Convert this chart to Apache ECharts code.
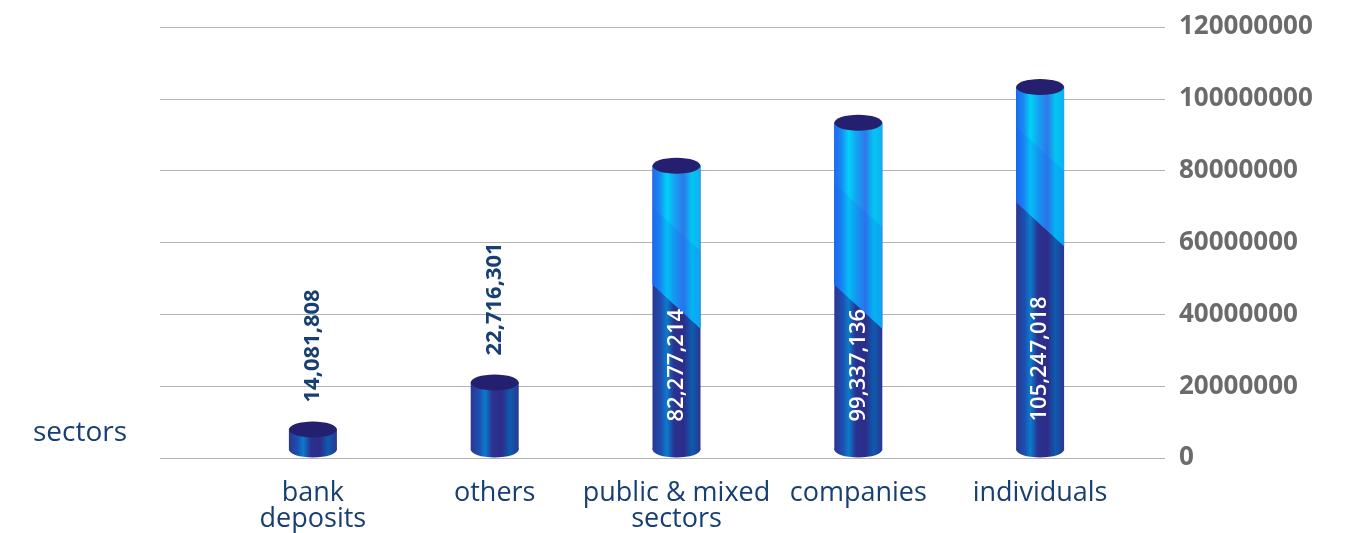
<!DOCTYPE html>
<html>
<head>
<meta charset="utf-8">
<script src="https://cdn.jsdelivr.net/npm/echarts@6/dist/echarts.min.js"></script>
<style>
  html, body { margin: 0; padding: 0; background: #fff; }
  #chart { width: 1363px; height: 533px; }
</style>
</head>
<body>
<div id="chart"></div>
<script>
var categories = ['bank\ndeposits', 'others', 'public & mixed\nsectors', 'companies', 'individuals'];
// bar heights as drawn in the picture
var barValues = [7800000, 20900000, 81300000, 93300000, 103300000];
// the figures written on the bars
var valueLabels = ['14,081,808', '22,716,301', '82,277,214', '99,337,136', '105,247,018'];
var yTicks = [0, 20000000, 40000000, 60000000, 80000000, 100000000, 120000000];

var chart = echarts.init(document.getElementById('chart'));

var NAVY = '#173f72';

// vertical stripes of the cylinder body
function darkFill() {
    return new echarts.graphic.LinearGradient(0, 0, 1, 0, [
        { offset: 0, color: '#2c3592' },
        { offset: 0.18, color: '#1d4fb0' },
        { offset: 0.3, color: '#0a7ccc' },
        { offset: 0.45, color: '#2a3290' },
        { offset: 0.65, color: '#2d2c8a' },
        { offset: 0.82, color: '#0c5cae' },
        { offset: 1, color: '#2c3590' }
    ]);
}
function lightFill() {
    return new echarts.graphic.LinearGradient(0, 0, 1, 0, [
        { offset: 0, color: '#1a6cf0' },
        { offset: 0.15, color: '#1a88f2' },
        { offset: 0.3, color: '#00d2f6' },
        { offset: 0.45, color: '#12a6f2' },
        { offset: 0.65, color: '#2f78ea' },
        { offset: 0.82, color: '#00c6f2' },
        { offset: 1, color: '#12aef0' }
    ]);
}

function renderCylinder(params, api) {
    var idx = params.dataIndex;
    var val = api.value(1);
    var topPt = api.coord([api.value(0), val]);
    var basePt = api.coord([api.value(0), 0]);
    var w = 48, ry = 8;
    var cx = topPt[0], top = topPt[1];
    var bottom = basePt[1] - ry;
    var l = cx - w / 2, r = cx + w / 2;
    var children = [];

    // body
    children.push({
        type: 'rect',
        shape: { x: l, y: top, width: w, height: bottom - top },
        style: { fill: darkFill() }
    });
    children.push({
        type: 'ellipse',
        shape: { cx: cx, cy: bottom, rx: w / 2, ry: ry },
        style: { fill: darkFill() }
    });

    // lighter upper part on the tall bars
    if (val > 50000000) {
        var splitY = api.coord([0, val > 100000000 ? 65000000 : 42000000])[1];
        children.push({
            type: 'polygon',
            shape: { points: [[l, top], [r, top], [r, splitY + 22], [l, splitY - 22]] },
            style: { fill: lightFill() }
        });
        // faint diagonal band
        var bandY = top + (splitY - top) * 0.45;
        children.push({
            type: 'polygon',
            shape: { points: [[l, bandY - 22], [r, bandY + 22], [r, splitY + 22], [l, splitY - 22]] },
            style: { fill: 'rgba(20,80,240,0.15)' }
        });
    }

    // top cap
    children.push({
        type: 'ellipse',
        shape: { cx: cx, cy: top, rx: w / 2, ry: ry },
        style: { fill: '#241f6e' }
    });

    // value text, rotated
    var inside = val > 50000000;
    children.push({
        type: 'text',
        x: cx,
        y: inside ? basePt[1] - 36 : top - ry - 19,
        rotation: Math.PI / 2,
        style: {
            text: valueLabels[idx],
            fill: inside ? '#ffffff' : NAVY,
            font: (inside ? '600 ' : 'bold ') + '22px "Open Sans"',
            align: 'left',
            verticalAlign: 'middle'
        }
    });

    return { type: 'group', children: children };
}

var option = {
    animation: false,
    grid: [
        { left: 160, right: 198, top: 27, bottom: 75 },
        { left: 222, right: 232, top: 27, bottom: 75 }
    ],
    xAxis: [
        { type: 'category', gridIndex: 0, data: categories, show: false },
        {
            type: 'category',
            gridIndex: 1,
            data: categories,
            axisLine: { show: false },
            axisTick: { show: false },
            axisLabel: {
                interval: 0,
                margin: 23,
                color: NAVY,
                fontFamily: 'Open Sans',
                fontSize: 27,
                lineHeight: 26
            }
        }
    ],
    yAxis: [
        {
            type: 'value',
            gridIndex: 0,
            position: 'right',
            min: yTicks[0],
            max: yTicks[yTicks.length - 1],
            interval: yTicks[1] - yTicks[0],
            axisLine: { show: false },
            axisTick: { show: false },
            splitLine: { lineStyle: { color: '#b3b3b3', width: 1.2 } },
            axisLabel: {
                margin: 14,
                color: '#6b6b6b',
                fontFamily: 'Open Sans',
                fontWeight: 'bold',
                fontSize: 26,
                formatter: function (v) { return String(v); }
            }
        },
        {
            type: 'value',
            gridIndex: 1,
            min: yTicks[0],
            max: yTicks[yTicks.length - 1],
            interval: yTicks[1] - yTicks[0],
            show: false
        }
    ],
    graphic: [{
        type: 'text',
        left: 33,
        top: 419,
        style: {
            text: 'sectors',
            fill: NAVY,
            font: '28px "Open Sans"'
        }
    }],
    series: [{
        type: 'custom',
        xAxisIndex: 1,
        yAxisIndex: 1,
        renderItem: renderCylinder,
        data: barValues.map(function (v, i) { return [i, v]; })
    }]
};

chart.setOption(option);
</script>
</body>
</html>
